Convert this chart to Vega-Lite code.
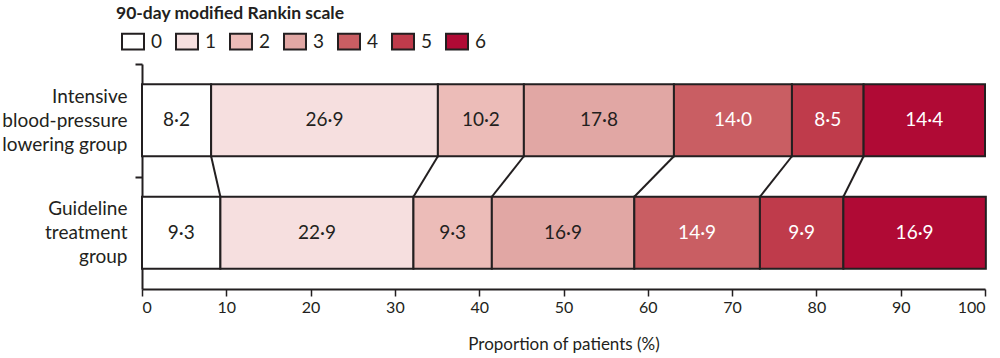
{
  "$schema": "https://vega.github.io/schema/vega-lite/v6.json",
  "width": 843,
  "height": 225,
  "autosize": {"type": "none"},
  "padding": {"left": 142, "top": 64, "right": 15, "bottom": 69},
  "config": {
    "view": {"stroke": null},
    "font": "Lato",
    "axis": {"labelColor": "#231f20", "titleColor": "#231f20", "domainColor": "#231f20", "tickColor": "#231f20"}
  },
  "data": {
    "values": [
      {"group": "Intensive", "mRS": 0, "pct": 8.2, "label": "8·2"},
      {"group": "Intensive", "mRS": 1, "pct": 26.9, "label": "26·9"},
      {"group": "Intensive", "mRS": 2, "pct": 10.2, "label": "10·2"},
      {"group": "Intensive", "mRS": 3, "pct": 17.8, "label": "17·8"},
      {"group": "Intensive", "mRS": 4, "pct": 14.0, "label": "14·0"},
      {"group": "Intensive", "mRS": 5, "pct": 8.5, "label": "8·5"},
      {"group": "Intensive", "mRS": 6, "pct": 14.4, "label": "14·4"},
      {"group": "Guideline", "mRS": 0, "pct": 9.3, "label": "9·3"},
      {"group": "Guideline", "mRS": 1, "pct": 22.9, "label": "22·9"},
      {"group": "Guideline", "mRS": 2, "pct": 9.3, "label": "9·3"},
      {"group": "Guideline", "mRS": 3, "pct": 16.9, "label": "16·9"},
      {"group": "Guideline", "mRS": 4, "pct": 14.9, "label": "14·9"},
      {"group": "Guideline", "mRS": 5, "pct": 9.9, "label": "9·9"},
      {"group": "Guideline", "mRS": 6, "pct": 16.9, "label": "16·9"}
    ]
  },
  "encoding": {
    "y": {
      "field": "group",
      "type": "nominal",
      "sort": ["Intensive", "Guideline"],
      "scale": {"domain": ["Intensive", "Guideline"], "paddingInner": 0.36, "paddingOuter": 0.18},
      "axis": {
        "title": null,
        "tickOffset": -56.25,
        "labelOffset": 32.25,
        "tickSize": 7,
        "tickWidth": 2,
        "domainWidth": 2,
        "labelFontSize": 19,
        "labelLineHeight": 24,
        "labelPadding": 8,
        "labelExpr": "datum.value == 'Intensive' ? ['Intensive', 'blood-pressure', 'lowering group'] : ['Guideline', 'treatment', 'group']"
      }
    }
  },
  "layer": [
    {
      "transform": [
        {"stack": "pct", "groupby": ["group"], "sort": [{"field": "mRS", "order": "ascending"}], "as": ["x0", "x1"]},
        {"filter": "datum.mRS < 6"},
        {"pivot": "group", "value": "x1", "groupby": ["mRS"]}
      ],
      "mark": {"type": "rule", "color": "#231f20", "strokeWidth": 2, "yOffset": 36, "y2Offset": -36},
      "encoding": {
        "x": {"field": "Intensive", "type": "quantitative"},
        "x2": {"field": "Guideline"},
        "y": {"datum": "Intensive", "type": "nominal"},
        "y2": {"datum": "Guideline"}
      }
    },
    {
      "mark": {"type": "bar", "stroke": "#231f20", "strokeWidth": 2, "height": 72},
      "encoding": {
        "x": {
          "field": "pct",
          "type": "quantitative",
          "stack": "zero",
          "scale": {"domain": [0, 100], "nice": false},
          "axis": {
            "title": "Proportion of patients (%)",
            "values": [0, 10, 20, 30, 40, 50, 60, 70, 80, 90, 100],
            "grid": false,
            "tickSize": 7,
            "tickWidth": 1.5,
            "domainWidth": 2,
            "labelFontSize": 16,
            "labelPadding": 3,
            "titleFontSize": 17,
            "titleFontWeight": "normal",
            "titlePadding": 21
          }
        },
        "color": {
          "field": "mRS",
          "type": "ordinal",
          "scale": {"domain": [0, 1, 2, 3, 4, 5, 6], "range": ["#ffffff", "#f6dfdf", "#ecbcb8", "#e1a7a4", "#c95e63", "#bf3b4b", "#b00a35"]},
          "legend": {
            "title": "90-day modified Rankin scale",
            "orient": "none",
            "direction": "horizontal",
            "legendX": -26,
            "legendY": -59,
            "titleFontSize": 17.5,
            "titleFontWeight": "bold",
            "titleColor": "#231f20",
            "titleLimit": 500,
            "titlePadding": 2,
            "labelFontSize": 19,
            "labelColor": "#231f20",
            "labelOffset": 1,
            "columnPadding": 7,
            "symbolType": "M-0.7,-0.5H0.7V0.5H-0.7Z",
            "symbolSize": 987,
            "symbolStrokeColor": "#231f20",
            "symbolStrokeWidth": 2,
            "symbolOpacity": 1
          }
        },
        "order": {"field": "mRS", "type": "quantitative", "sort": "ascending"}
      }
    },
    {
      "mark": {"type": "text", "fontSize": 19, "baseline": "middle", "align": "center"},
      "encoding": {
        "x": {"field": "pct", "type": "quantitative", "stack": "zero", "bandPosition": 0.5},
        "detail": {"field": "mRS"},
        "order": {"field": "mRS", "type": "quantitative", "sort": "ascending"},
        "text": {"field": "label"},
        "color": {"condition": {"test": "datum.mRS >= 4", "value": "#ffffff"}, "value": "#231f20"}
      }
    }
  ]
}
